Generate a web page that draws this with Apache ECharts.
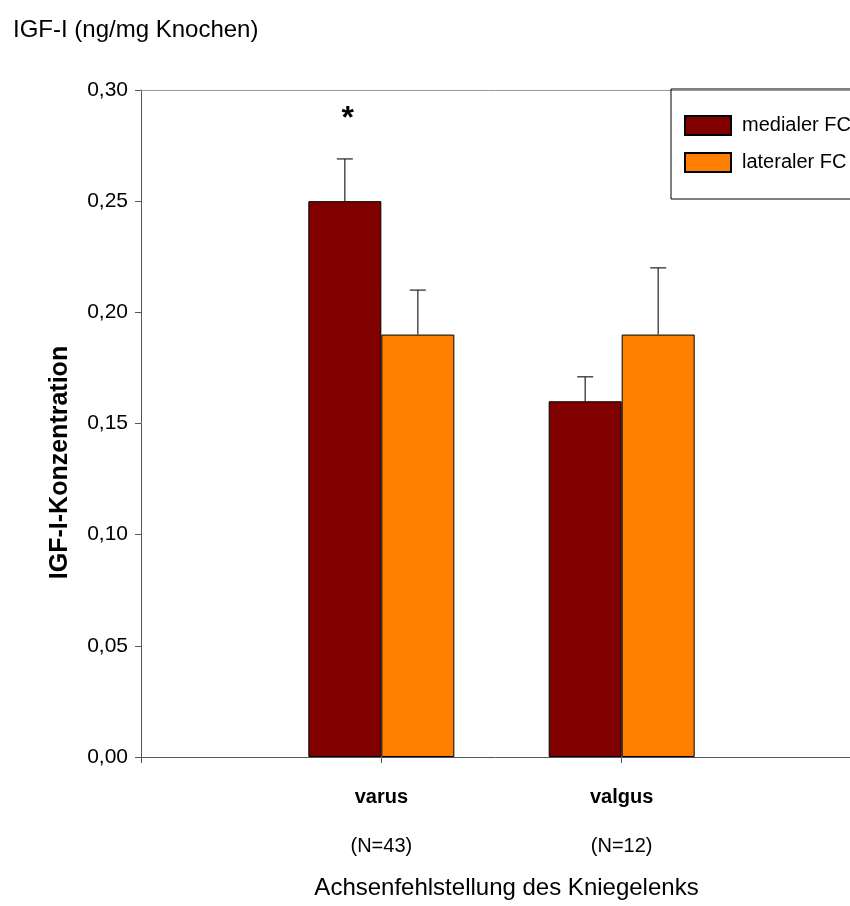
<!DOCTYPE html>
<html><head><meta charset="utf-8">
<script src="https://cdn.jsdelivr.net/npm/echarts@6/dist/echarts.min.js"></script>
<style>html,body{margin:0;padding:0;background:#fff}#c{width:850px;height:906px}</style>
</head><body><div id="c"></div>
<script>
const categories = ['varus', 'valgus'];
const catPos = [1, 2];
const groupN = ['(N=43)', '(N=12)'];
const medial = [0.25, 0.16];
const lateral = [0.19, 0.19];
const medialErrTop = [0.269, 0.171];
const lateralErrTop = [0.21, 0.22];
const medialMark = ['*', ''];
const yTicks = [0, 0.05, 0.10, 0.15, 0.20, 0.25, 0.30];

const FONT = "'Liberation Sans', Arial, sans-serif";
const BARW = 73;

function errData(vals, tops, marks, side) {
  return tops.map((t, i) => [catPos[i], t, side, vals[i], marks ? marks[i] : '']);
}
function renderErr(params, api) {
  const pos = api.value(0), top = api.value(1), side = api.value(2), val = api.value(3);
  const i = params.dataIndex;
  const base = api.coord([pos, 0]);
  const x = base[0] + side * BARW / 2;
  const yBar = api.coord([pos, val])[1];
  const yTop = api.coord([pos, top])[1];
  const st = { stroke: '#222', lineWidth: 1.2 };
  const children = [
    { type: 'line', shape: { x1: x, y1: yBar, x2: x, y2: yTop }, style: st },
    { type: 'line', shape: { x1: x - 8, y1: yTop, x2: x + 8, y2: yTop }, style: st }
  ];
  const mark = side < 0 ? medialMark[i] : '';
  if (mark) {
    children.push({ type: 'text', style: { text: mark, x: x + 3, y: api.coord([pos, 0.287])[1], align: 'center', verticalAlign: 'middle', font: "bold 32px 'Liberation Sans', Arial, sans-serif", fill: '#000' } });
  }
  return { type: 'group', children };
}
function catLabel(v) {
  const i = catPos.indexOf(Math.round(v));
  if (i < 0 || Math.abs(v - catPos[i]) > 1e-6) return '';
  return '{b|' + categories[i] + '}\n{n|' + groupN[i] + '}';
}

const chart = echarts.init(document.getElementById('c'), null, { renderer: 'canvas' });
chart.setOption({
  animation: false,
  backgroundColor: '#fff',
  title: { text: 'IGF-I (ng/mg Knochen)', left: 8, top: 13, textStyle: { fontFamily: FONT, fontSize: 24, fontWeight: 'normal', color: '#000' } },
  legend: {
    orient: 'vertical', left: 671, top: 89,
    padding: [26, 20, 26, 13], itemWidth: 46, itemHeight: 19, itemGap: 16,
    borderColor: '#000', borderWidth: 1, icon: 'rect',
    textStyle: { fontFamily: FONT, fontSize: 20, color: '#000', lineHeight: 19, padding: [0, 0, 0, 6] },
    data: ['medialer FC', 'lateraler FC']
  },
  grid: { left: 141, top: 90, bottom: 149, right: 0, containLabel: false },
  xAxis: [{
    type: 'value', min: 0, max: 2.95, interval: 1,
    splitLine: { show: false },
    axisLine: { show: true, lineStyle: { color: '#555', width: 1 } },
    axisTick: { show: true, length: 6, lineStyle: { color: '#555' } },
    axisLabel: {
      margin: 16, showMinLabel: true, showMaxLabel: false,
      formatter: catLabel,
      rich: {
        b: { fontFamily: FONT, fontSize: 20, fontWeight: 'bold', color: '#000', lineHeight: 49 },
        n: { fontFamily: FONT, fontSize: 20, color: '#000', lineHeight: 49 }
      }
    },
    name: 'Achsenfehlstellung des Kniegelenks', nameLocation: 'middle', nameGap: 119,
    nameTextStyle: { fontFamily: FONT, fontSize: 24, color: '#000', padding: [0, 0, 0, 22] }
  }, {
    type: 'value', min: 0, max: 2.95, position: 'top',
    splitLine: { show: false },
    axisLine: { show: true, lineStyle: { color: '#999', width: 1 } },
    axisTick: { show: false }, axisLabel: { show: false }
  }],
  yAxis: {
    type: 'value', min: 0, max: 0.30, interval: 0.05,
    axisLine: { show: true, lineStyle: { color: '#555', width: 1 } },
    axisTick: { show: true, length: 6, inside: false, lineStyle: { color: '#555' } },
    splitLine: { show: false },
    axisLabel: { margin: 13, fontFamily: FONT, fontSize: 21, color: '#000', formatter: v => v.toFixed(2).replace('.', ',') },
    name: 'IGF-I-Konzentration', nameLocation: 'middle', nameGap: 68,
    nameTextStyle: { fontFamily: FONT, fontSize: 25, fontWeight: 'bold', color: '#000', padding: [0, 78, 0, 0] }
  },
  series: [
    { name: 'medialer FC', type: 'bar', data: medial.map((v, i) => [catPos[i], v]), barWidth: BARW, barGap: '0%',
      itemStyle: { color: '#800000', borderColor: '#000', borderWidth: 1 } },
    { name: 'lateraler FC', type: 'bar', data: lateral.map((v, i) => [catPos[i], v]), barWidth: BARW, barGap: '0%',
      itemStyle: { color: '#FF8000', borderColor: '#000', borderWidth: 1 } },
    { type: 'custom', renderItem: renderErr, data: errData(medial, medialErrTop, medialMark, -1), z: 5, silent: true },
    { type: 'custom', renderItem: renderErr, data: errData(lateral, lateralErrTop, null, 1), z: 5, silent: true }
  ]
});
</script></body></html>
